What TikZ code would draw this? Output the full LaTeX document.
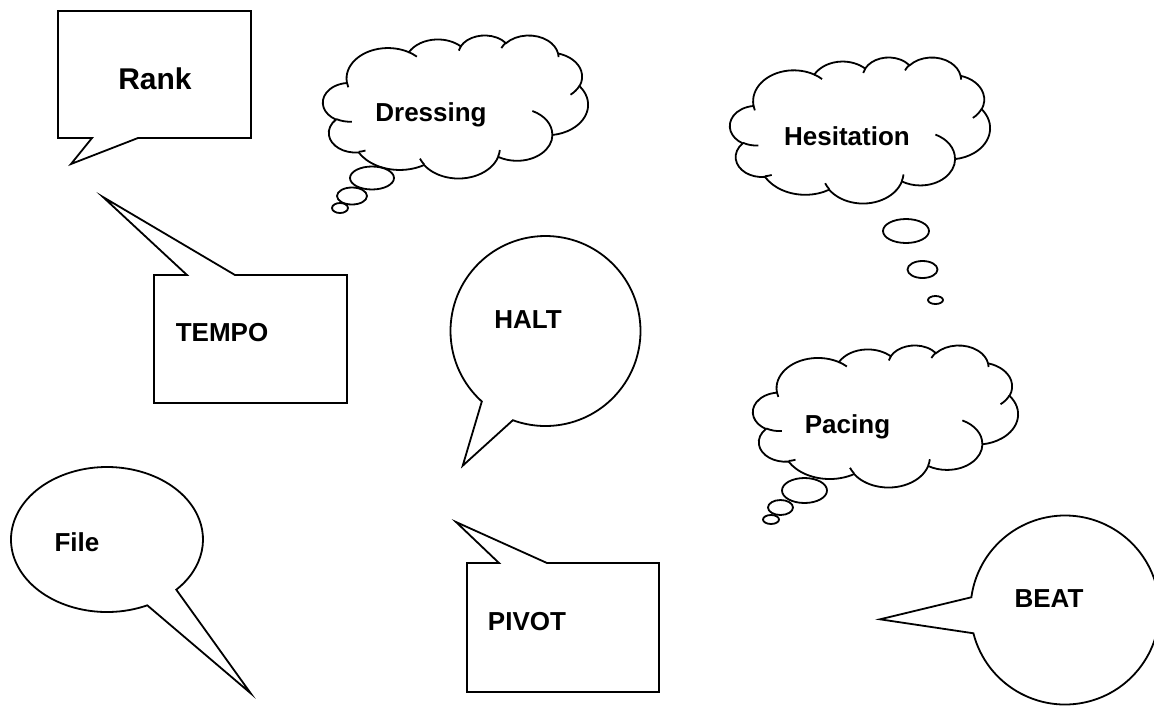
\documentclass[tikz,border=0pt]{standalone}
\usepackage{fontspec}
\setmainfont{Liberation Sans}
\usetikzlibrary{calc}
\tikzset{
  declare function={
    pa(\pA,\pB,\pT)=atan2(\pA*sin(\pT),\pB*cos(\pT));
    pd(\pA,\pB,\pS,\pW)=Mod(pa(\pA,\pB,\pS+\pW)-pa(\pA,\pB,\pS),360);
  },
  carc/.style n args={4}{insert path={arc[x radius=#1, y radius=#2, start angle={pa(#1,#2,#3)}, delta angle={pd(#1,#2,#3,#4)}]}},
  outline/.style={line width=1.8pt, line join=miter, draw=black},
  lbl/.style={font=\fontsize{26}{30}\selectfont\bfseries, anchor=base, inner sep=0pt},
  biglbl/.style={font=\fontsize{30}{34}\selectfont\bfseries, anchor=base, inner sep=0pt},
}
\newcommand\thoughtcloud[4]{%
  \begin{scope}[shift={(#1,#2)}, xscale=#3/43.2, yscale=#4/43.2]
    \draw[outline, fill=white] (3.9,14.37)
      [carc={6.753}{9.19}{-190.4875}{123.7805}]
      [carc={5.333}{7.267}{-144.1024}{89.9452}]
      [carc={4.365}{5.945}{-145.8079}{99.7230}]
      [carc={4.857}{6.595}{-130.9861}{117.2417}]
      [carc={5.333}{7.273}{-78.7089}{109.0269}]
      [carc={6.775}{9.22}{-46.2673}{130.2690}]
      [carc={5.785}{7.867}{0.6250}{114.0333}]
      [carc={6.752}{9.215}{22.4516}{115.1726}]
      [carc={7.72}{10.543}{66.2426}{75.7110}]
      [carc={4.36}{5.918}{-274.9421}{146.7356}]
      [carc={4.345}{5.945}{-246.8285}{152.5189}] -- cycle;
    \draw[outline]
      (4.693,26.177) [carc={4.345}{5.945}{86.7420}{26.4295}]
      (6.928,34.899) [carc={4.36}{5.918}{73.6105}{11.4475}]
      (16.478,39.09) [carc={6.752}{9.215}{137.6242}{14.0811}]
      (28.827,34.751) [carc={6.752}{9.215}{6.4533}{15.9984}]
      (34.129,22.954) [carc={5.785}{7.867}{-70.2924}{70.9174}]
      (41.798,15.354) [carc={5.333}{7.273}{30.3180}{27.7515}]
      (38.324,5.426) [carc={4.857}{6.595}{-13.7443}{14.8589}]
      (29.078,3.952) [carc={4.857}{6.595}{-149.1815}{18.1954}]
      (22.141,4.72) [carc={4.365}{5.945}{-163.4943}{17.6864}]
      (14.0,5.192) [carc={6.753}{9.19}{-66.7070}{12.3194}]
      (4.127,15.789) [carc={6.753}{9.19}{157.6544}{11.8582}];
  \end{scope}}
\begin{document}
\begin{tikzpicture}[x=1pt, y=1pt, yscale=-1]
  \fill[white] (0,0) rectangle (1154,705);
  \useasboundingbox (0,0) rectangle (1154,705);
  \clip (0,0) rectangle (1154,705);

  % Rank
  \draw[outline] (58,11) -- (251,11) -- (251,138) -- (138,138) -- (71,164) -- (92,138) -- (58,138) -- cycle;
  \node[biglbl] (rank) at (155,89.3) {Rank};

  % Dressing
  \thoughtcloud{323}{35}{265}{143}
  \draw[outline, fill=white] (372,178) ellipse[x radius=22, y radius=11.5];
  \draw[outline, fill=white] (352,196) ellipse[x radius=15, y radius=8.5];
  \draw[outline, fill=white] (340,208) ellipse[x radius=8, y radius=5];
  \node[lbl] (dressing) at (431,121) {Dressing};

  % Hesitation
  \thoughtcloud{730}{57}{260}{146}
  \draw[outline, fill=white] (906,231) ellipse[x radius=23, y radius=12];
  \draw[outline, fill=white] (922.5,269.5) ellipse[x radius=15, y radius=8.5];
  \draw[outline, fill=white] (935.5,300) ellipse[x radius=7.5, y radius=4];
  \node[lbl] (hesitation) at (847,145) {Hesitation};

  % TEMPO
  \draw[outline] (154,275) -- (187,275) -- (103,197) -- (235,275) -- (347,275) -- (347,403) -- (154,403) -- cycle;
  \node[lbl] (tempo) at (222,341.7) {TEMPO};

  % HALT
  \coordinate (haltc) at (545.5,331);
  \coordinate (halttip) at (462.7,465.7);
  \draw[outline, fill=white] (halttip) -- ($(haltc)+(132.1:95)$) arc[start angle=132.1, end angle=470.1, radius=95] -- cycle;
  \node[lbl] (halt) at (528,328.3) {HALT};

  % Pacing
  \thoughtcloud{753}{345}{265}{142}
  \draw[outline, fill=white] (804.5,490.5) ellipse[x radius=22.5, y radius=12.5];
  \draw[outline, fill=white] (780.5,507.5) ellipse[x radius=12.5, y radius=7.5];
  \draw[outline, fill=white] (771,519.5) ellipse[x radius=8, y radius=4.5];
  \node[lbl] (pacing) at (847.5,433.3) {Pacing};

  % File
  \coordinate (filec) at (107,539.5);
  \coordinate (filetip) at (250.7,693.3);
  \draw[outline, fill=white] (filetip) -- ($(filec)+({96*cos(65.2)},{72.5*sin(65.2)})$) arc[start angle=65.2, end angle=403.8, x radius=96, y radius=72.5] -- cycle;
  \node[lbl] (file) at (77,551.7) {File};

  % PIVOT
  \draw[outline] (467,563) -- (499,563) -- (456,522) -- (547,563) -- (659,563) -- (659,692) -- (467,692) -- cycle;
  \node[lbl] (pivot) at (527,630) {PIVOT};

  % BEAT
  \coordinate (beatc) at (1065,610);
  \coordinate (beattip) at (880,619.3);
  \draw[outline, fill=white] (beattip) -- ($(beatc)+(165.74:94.5)$) arc[start angle=165.74, end angle=-172.25, radius=94.5] -- cycle;
  \node[lbl] (beat) at (1049,607.3) {BEAT};
\end{tikzpicture}
\end{document}
